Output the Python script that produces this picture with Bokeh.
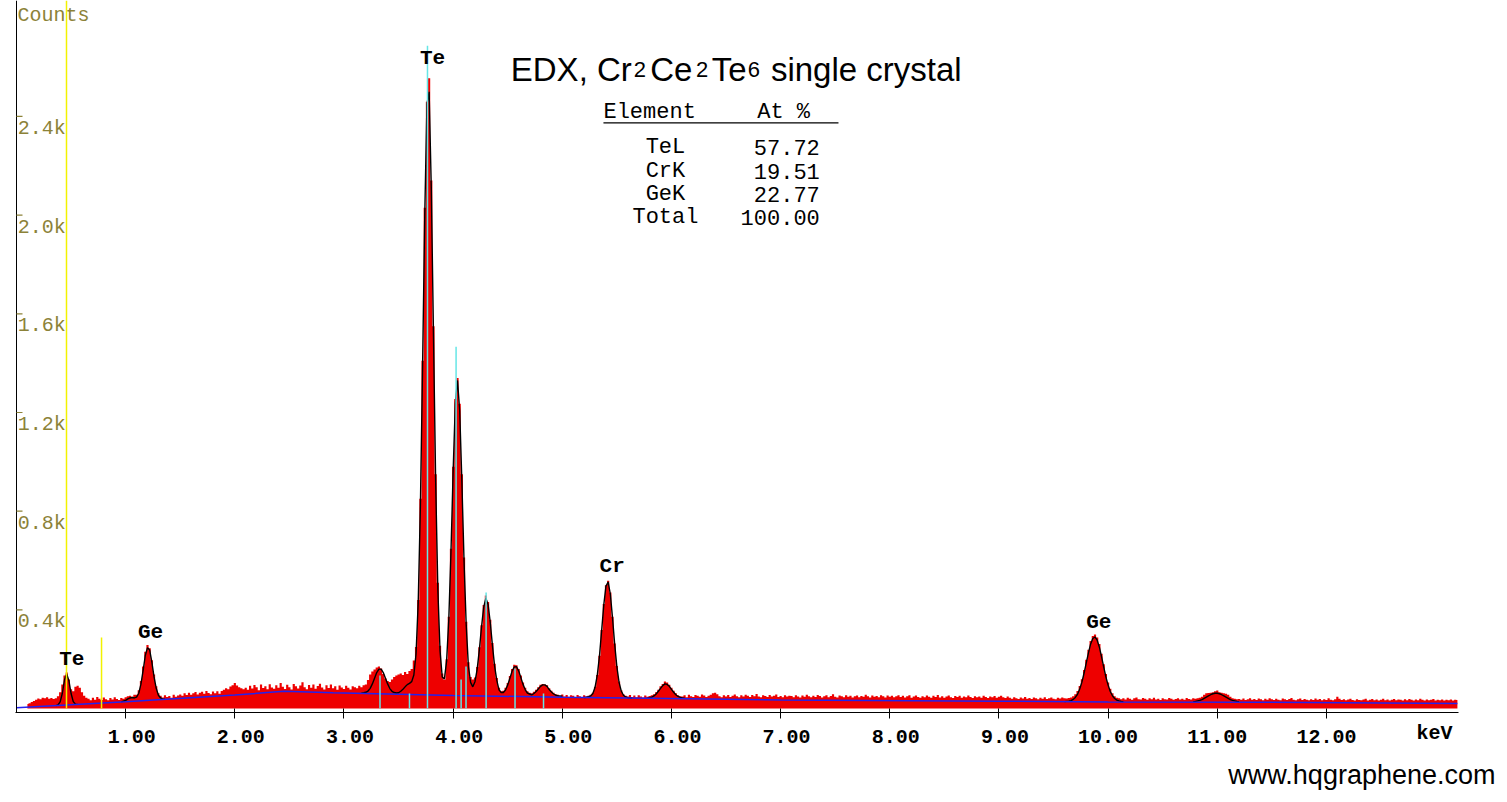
from bokeh.plotting import figure
from bokeh.models import Range1d, FixedTicker, Title
from bokeh.core.properties import value
from bokeh.embed import file_html
from bokeh.resources import INLINE

# ---------------- data ----------------
CHANNEL_START = 0.10   # keV, centre of first channel
CHANNEL_WIDTH = 0.02   # keV

counts_00 = [18, 22, 27, 31, 36, 41, 38, 44, 42, 46,
             40, 43, 39, 42, 50, 66, 98, 134, 146, 118,
             78, 70, 88, 92, 84, 66, 52, 44, 40, 34,
             44, 36, 47, 40, 35, 45, 38, 34, 43, 37,
             46, 39, 35, 43, 40, 46, 50, 52, 48, 56]
counts_01 = [56, 74, 112, 170, 230, 258, 244, 196, 138, 90,
             62, 52, 45, 54, 47, 51, 44, 56, 48, 53,
             57, 52, 62, 55, 64, 56, 62, 67, 57, 64,
             68, 60, 71, 63, 58, 69, 62, 70, 60, 71,
             76, 82, 78, 89, 94, 104, 93, 86, 82, 78]
counts_02 = [84, 76, 92, 81, 95, 86, 74, 97, 83, 90,
             78, 99, 85, 80, 94, 84, 104, 88, 79, 96,
             86, 77, 100, 90, 81, 93, 107, 86, 78, 95,
             84, 98, 80, 91, 101, 85, 77, 94, 83, 97,
             82, 90, 76, 93, 85, 79, 92, 84, 77, 90]
counts_03 = [86, 82, 92, 86, 94, 98, 116, 138, 150, 158,
             166, 170, 162, 140, 122, 112, 108, 118, 128, 134,
             138, 142, 136, 148, 140, 152, 160, 195, 250, 440,
             850, 1410, 2030, 2460, 2555, 2140, 1550, 950, 510, 255,
             142, 118, 200, 372, 648, 980, 1255, 1340, 1235, 950]
counts_04 = [612, 352, 188, 128, 118, 126, 168, 248, 338, 420,
             458, 432, 360, 266, 182, 124, 84, 70, 72, 84,
             104, 132, 160, 178, 176, 160, 134, 106, 84, 70,
             64, 62, 68, 76, 86, 96, 100, 98, 94, 82,
             72, 64, 58, 56, 50, 57, 49, 55, 48, 54]
counts_05 = [52, 47, 55, 50, 46, 54, 49, 52, 56, 64,
             88, 136, 214, 318, 424, 500, 518, 470, 372, 264,
             172, 110, 74, 58, 52, 49, 55, 47, 53, 46,
             54, 49, 45, 53, 48, 51, 54, 58, 66, 76,
             90, 100, 110, 106, 96, 84, 72, 62, 54, 50]
counts_06 = [49, 54, 46, 56, 50, 47, 55, 52, 48, 57,
             53, 47, 52, 56, 62, 64, 58, 50, 46, 54,
             49, 55, 47, 52, 57, 50, 46, 54, 49, 56,
             52, 47, 55, 50, 59, 49, 46, 54, 51, 47,
             55, 49, 52, 57, 47, 51, 46, 54, 49, 52]
counts_07 = [51, 46, 54, 49, 45, 53, 48, 56, 50, 46,
             52, 47, 55, 51, 45, 50, 54, 46, 51, 58,
             48, 45, 53, 50, 46, 54, 48, 52, 45, 50,
             53, 46, 51, 48, 56, 50, 45, 53, 48, 51,
             46, 54, 50, 45, 53, 48, 52, 46, 50, 54]
counts_08 = [47, 52, 45, 50, 54, 44, 49, 53, 47, 44,
             50, 46, 53, 48, 44, 52, 47, 55, 45, 50,
             44, 49, 53, 46, 43, 51, 47, 52, 44, 49,
             46, 53, 47, 43, 50, 46, 49, 44, 52, 47,
             43, 49, 46, 51, 44, 48, 52, 46, 43, 49]
counts_09 = [44, 40, 46, 42, 39, 45, 41, 47, 40, 43,
             39, 45, 42, 38, 44, 40, 46, 39, 42, 45,
             40, 38, 44, 41, 45, 42, 41, 43, 45, 50,
             58, 71, 91, 119, 156, 198, 238, 274, 294, 300,
             288, 262, 222, 180, 140, 106, 80, 62, 50, 44]
counts_10 = [42, 38, 42, 37, 44, 40, 36, 42, 45, 38,
             37, 43, 40, 36, 42, 38, 44, 37, 40, 35,
             42, 38, 37, 43, 40, 36, 39, 42, 37, 40,
             36, 43, 39, 37, 42, 40, 42, 44, 48, 56,
             62, 63, 64, 66, 70, 73, 66, 64, 62, 60]
counts_11 = [56, 48, 42, 40, 38, 39, 36, 41, 35, 38,
             42, 36, 39, 35, 41, 38, 34, 40, 36, 42,
             38, 35, 40, 36, 34, 41, 38, 35, 39, 43,
             36, 34, 38, 41, 35, 39, 36, 34, 38, 35,
             41, 36, 39, 34, 38, 35, 42, 36, 34, 38]
counts_12 = [48, 40, 35, 38, 34, 37, 40, 35, 33, 38,
             35, 34, 37, 40, 33, 36, 39, 34, 37, 33,
             36, 40, 34, 37, 33, 36, 39, 34, 37, 36,
             33, 38, 34, 39, 36, 33, 37, 34, 40, 36,
             33, 37, 34, 36, 39, 33, 36, 34, 37, 33]
counts_13 = [36, 34, 37, 33, 36, 35]

# fitted peak curve (black), segments: (start keV, values every channel)
fit_te_m = (0.36, [12, 15, 27, 62, 117, 140, 113, 61, 28, 18, 17])
fit_ge_l = (0.96, [27, 30, 33, 39, 43, 45, 43, 46, 62, 99, 155, 215, 247, 237,
                   188, 128, 82, 54, 43, 38, 38])
fit_te_l = (3.16, [63, 64, 66, 71, 82, 100, 123, 146, 160, 160,
                   146, 123, 100, 81, 70, 65, 63, 64, 70, 78,
                   88, 97, 102, 109, 136, 221, 430, 820, 1386, 2000,
                   2450, 2500, 2108, 1512, 917, 481, 234, 128, 120, 192,
                   360, 632, 962, 1237, 1330, 1208, 921, 595, 336, 171,
                   106, 88, 109, 159, 238, 331, 411, 447, 422, 349,
                   256, 172, 114, 76, 65, 65, 75, 96, 123, 151,
                   169, 170, 153, 126, 98, 77, 63, 59, 55, 61,
                   69, 79, 90, 96, 96, 90, 77, 67, 59, 54,
                   52, 51, 50])
fit_cr_ka = (5.20, [45, 46, 48, 51, 61, 86, 134, 211, 314, 420,
                    496, 513, 464, 368, 260, 169, 106, 71, 54, 47,
                    44, 43, 43])
fit_cr_kb = (5.78, [43, 44, 46, 51, 59, 70, 82, 93, 100, 98, 90, 78, 66, 56,
                    49, 45, 43, 42])
fit_ge_ka = (9.60, [28, 29, 30, 32, 37, 45, 58, 79, 107, 144, 185, 226, 262, 284,
                    290, 277, 249, 210, 168, 128, 95, 69, 52, 41, 34, 31, 29, 28])
fit_ge_kb = (10.78, [28, 29, 31, 33, 36, 41, 46, 51, 56, 60, 62, 62, 60, 56, 51,
                     46, 41, 36, 33, 31, 29, 28])

# background (blue)
bg_energy = [0.0, 1.0, 2.0, 2.45, 2.9, 4.0, 5.0, 5.8, 7.0, 9.0, 10.0, 11.5, 13.2]
bg_counts = [3, 28, 55, 70, 64, 53, 46, 42, 35, 30, 27, 26, 20]

# element line markers (cyan)
marker_energy = [3.330, 3.600, 3.765, 4.027, 4.073, 4.118, 4.302, 4.567, 4.828]
marker_height = [134, 61, 2687, 1467, 118, 170, 470, 162, 61]
# cursor markers (yellow)
cursor_energy = [0.458, 0.779]
cursor_height = [2870, 288]

x_ticks = [1, 2, 3, 4, 5, 6, 7, 8, 9, 10, 11, 12]
x_tick_labels = ["\u00a01.00", "\u00a02.00", "\u00a03.00", "\u00a04.00", "\u00a05.00",
                 "\u00a06.00", "\u00a07.00", "\u00a08.00", "\u00a09.00", "10.00", "11.00",
                 "12.00"]
x_unit = "keV"
y_ticks = [400, 800, 1200, 1600, 2000, 2400]
y_tick_labels = ["0.4k", "0.8k", "1.2k", "1.6k", "2.0k", "2.4k"]

peak_names = ["Te", "Ge", "Te", "Cr", "Ge"]
peak_label_x = [0.506, 1.228, 3.811, 5.457, 9.915]
peak_label_y = [200, 309, 2635, 576, 350]

table_elements = ["TeL", "CrK", "GeK", "Total"]
table_at_pct = ["57.72", "19.51", "22.77", "100.00"]

# ---------------- figure ----------------
W, H = 1507, 802
BORDER_L, BORDER_R, BORDER_T, BORDER_B = 15, 49, 0, 90
PX_PER_KEV = 109.16
X0 = -1.0 / PX_PER_KEV
X1 = X0 + (W - BORDER_L - BORDER_R) / PX_PER_KEV
Y0, Y1 = -16, 2870
frame_h = H - BORDER_T - BORDER_B
cpp = (Y1 - Y0) / frame_h  # counts per pixel

counts = (counts_00 + counts_01 + counts_02 + counts_03 + counts_04 + counts_05 +
          counts_06 + counts_07 + counts_08 + counts_09 + counts_10 + counts_11 +
          counts_12 + counts_13)
energy = [round(CHANNEL_START + i * CHANNEL_WIDTH, 3) for i in range(len(counts))]

p = figure(width=W, height=H, x_range=Range1d(X0, X1), y_range=Range1d(Y0, Y1),
           output_backend="svg", toolbar_location=None,
           min_border_left=BORDER_L, min_border_right=BORDER_R,
           min_border_top=BORDER_T, min_border_bottom=BORDER_B)
p.outline_line_color = None
p.xgrid.visible = False
p.ygrid.visible = False
p.yaxis.visible = False
p.background_fill_color = "white"
p.border_fill_color = "white"

OLIVE = "#8c8238"
MONO = "Liberation Mono"
SANS = "Liberation Sans"

xa = p.xaxis[0]
xa.ticker = FixedTicker(ticks=x_ticks)
xa.major_label_overrides = dict(zip(x_ticks, x_tick_labels))
xa.major_label_text_font = MONO
xa.major_label_text_font_style = "bold"
xa.major_label_text_font_size = "20px"
xa.major_label_text_color = "black"
xa.major_tick_in = 4
xa.major_tick_out = 6
xa.major_tick_line_color = "black"
xa.minor_tick_line_color = None
xa.major_label_standoff = 7
xa.axis_line_color = "black"
# unit label sits at the right end of the tick-label row (padded so its right edge
# lands just inside the axis end)
xa.axis_label = x_unit + "\u00a0" * 4
xa.axis_label_text_font = MONO
xa.axis_label_text_font_style = "bold"
xa.axis_label_text_font_size = "20px"
xa.axis_label_text_color = "black"
xa.axis_label_standoff = -30
try:
    xa.axis_label_align = "end"
except Exception:
    pass

# website caption
p.add_layout(Title(text="www.hqgraphene.com", align="right", offset=-37,
                   text_font=SANS, text_font_style="normal", text_font_size="27px",
                   text_color="black", standoff=21), "below")

# spectrum
p.varea_step(x=energy, y1=[0] * len(counts), y2=counts, step_mode="center",
             fill_color="#ee0000")

# fit curve
fit_xs, fit_ys = [], []
for start, vals in [fit_te_m, fit_ge_l, fit_te_l, fit_cr_ka, fit_cr_kb, fit_ge_ka, fit_ge_kb]:
    fit_xs.append([round(start + i * CHANNEL_WIDTH, 3) for i in range(len(vals))])
    fit_ys.append(vals)
p.multi_line(xs=fit_xs, ys=fit_ys, line_color="black", line_width=1.4)

# background
p.line(bg_energy, bg_counts, line_color="#2222ee", line_width=1.5)

# markers
p.segment(x0=marker_energy, y0=[0] * len(marker_energy), x1=marker_energy, y1=marker_height,
          line_color="#66e6e6", line_width=1.5)
p.segment(x0=cursor_energy, y0=[0] * len(cursor_energy), x1=cursor_energy, y1=cursor_height,
          line_color="#f2f200", line_width=1.5)

# y axis (drawn inside the frame: line, inward ticks, olive labels)
p.segment(x0=[0], y0=[Y0], x1=[0], y1=[Y1], line_color="black", line_width=1)
p.segment(x0=[0] * len(y_ticks), y0=y_ticks, x1=[6 / PX_PER_KEV] * len(y_ticks), y1=y_ticks,
          line_color=OLIVE, line_width=1.2)
p.text(x=[1.3 / PX_PER_KEV] * len(y_ticks), y=[t - 12 * cpp for t in y_ticks],
       text=y_tick_labels, text_font=value(MONO), text_font_size="20px", text_color=OLIVE,
       text_align="left", text_baseline="middle")
p.text(x=[1.0 / PX_PER_KEV], y=[2809], text=["Counts"], text_font=value(MONO),
       text_font_size="20px", text_color=OLIVE, text_align="left", text_baseline="middle")

# peak labels
p.text(x=peak_label_x, y=peak_label_y, text=peak_names, text_font=value(MONO),
       text_font_style="bold", text_font_size="21px", text_color="black",
       text_align="center", text_baseline="middle")

# title with subscripts
title_main = ["EDX, Cr", "Ce", "Te", "single crystal"]
title_main_x = [4.528, 5.805, 6.370, 6.911]
title_sub = ["2", "2", "6"]
title_sub_x = [5.655, 6.225, 6.700]
p.text(x=title_main_x, y=[2590] * 4, text=title_main, text_font=value(SANS),
       text_font_size="33px", text_color="black", text_align="left",
       text_baseline="alphabetic")
p.text(x=title_sub_x, y=[2590] * 3, text=title_sub, text_font=value(SANS),
       text_font_size="22px", text_color="black", text_align="left",
       text_baseline="alphabetic")

# element table
row_y = [2275, 2178, 2084, 1992]
p.text(x=[5.377], y=[2417], text=["Element"], text_font=value(MONO), text_font_size="22px",
       text_color="black", text_align="left", text_baseline="middle")
p.text(x=[6.786], y=[2417], text=["At %"], text_font=value(MONO), text_font_size="22px",
       text_color="black", text_align="left", text_baseline="middle")
p.segment(x0=[5.377], y0=[2374], x1=[7.530], y1=[2374], line_color="black", line_width=1.3)
p.text(x=[5.945] * 4, y=row_y, text=table_elements, text_font=value(MONO),
       text_font_size="22px", text_color="black", text_align="center", text_baseline="middle")
p.text(x=[7.359] * 4, y=row_y, text=table_at_pct, text_font=value(MONO),
       text_font_size="22px", text_color="black", text_align="right", text_baseline="middle")

open("out.html", "w").write(file_html(p, INLINE))
